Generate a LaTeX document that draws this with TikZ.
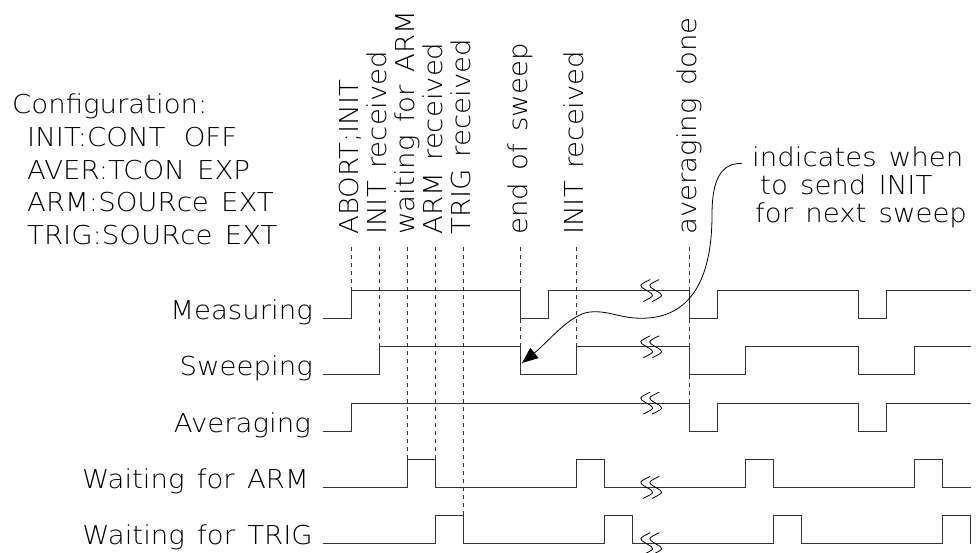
\documentclass[tikz,border=0pt]{standalone}
\usepackage{fontspec}
\IfFontExistsTF{DejaVu Sans ExtraLight}
  {\setmainfont{DejaVu Sans ExtraLight}[FakeStretch=1.06, WordSpace=1.4]}
  {\setmainfont{DejaVu Sans}[FakeStretch=1.06, WordSpace=1.4]}
\usetikzlibrary{arrows.meta}

\begin{document}
\begin{tikzpicture}[x=1pt, y=-1pt,
        >=Stealth,
        txt/.style={font=\fontsize{26pt}{32pt}\selectfont, inner sep=0pt},
        siglabel/.style={txt, anchor=base east},
        evlabel/.style={txt, rotate=90, anchor=base west},
        cfg/.style={txt, anchor=base west},
        wave/.style={line width=1.1pt, draw=black!80},
        guide/.style={line width=0.8pt, draw=black!80, dash pattern=on 4pt off 4pt},
        note/.style={-{Triangle[length=16pt, width=13pt]}, line width=0.8pt},
        cutmark/.pic={
            \draw[x=1pt, y=-1pt, line width=0.8pt] (-1,-11) .. controls (-13,-5) .. (-4.5,0) .. controls (4,5) .. (-8,11);
            \draw[x=1pt, y=-1pt, line width=0.8pt] (8,-11) .. controls (-4,-5) .. (4.5,0) .. controls (13,5) .. (1,11);
        },
    ]
    \useasboundingbox (0,0) rectangle (979,553);
    % Configuration
    \node[cfg] (cfgHead) at (12,114) {Configuration:};
    \node[cfg] (cfgInit) at (27,147) {INIT:CONT\hspace{6pt} OFF};
    \node[cfg] (cfgAver) at (27,180) {AVER:TCON EXP};
    \node[cfg] (cfgArm)  at (27,212) {ARM:SOURce EXT};
    \node[cfg] (cfgTrig) at (27,244) {TRIG:SOURce EXT};
    % Signal names
    \node[siglabel] (lblMeas)  at (313,319.5) {Measuring};
    \node[siglabel] (lblSweep) at (313,375.8) {Sweeping};
    \node[siglabel] (lblAver)  at (311,432.1) {Averaging};
    \node[siglabel] (lblArm)   at (309,488.4) {Waiting for ARM};
    \node[siglabel] (lblTrig)  at (313,544.7) {Waiting for TRIG};
    % Waveforms, one time step = 28.17px
    \begin{scope}[xshift=323pt, x=28.17pt]
        \draw[wave] (0,318.5) -| (1,290.5) -| (7,318.5) -| (8,290.5) -| (13,318.5)
            -| (14,290.5) -| (19,318.5) -| (20,290.5) -- (23,290.5);
        \draw[wave] (0,374.8) -| (2,346.8) -| (7,374.8) -| (9,346.8) -| (13,374.8)
            -| (15,346.8) -| (19,374.8) -| (21,346.8) -- (23,346.8);
        \draw[wave] (0,431.1) -| (1,403.1) -| (13,431.1) -| (14,403.1) -| (19,431.1)
            -| (20,403.1) -- (23,403.1);
        \draw[wave] (0,487.4) -| (3,459.4) -| (4,487.4) -| (9,459.4) -| (10,487.4)
            -| (15,459.4) -| (16,487.4) -| (21,459.4) -| (22,487.4) -- (23,487.4);
        \draw[wave] (0,543.7) -| (4,515.7) -| (5,543.7) -| (10,515.7) -| (11,543.7)
            -| (16,515.7) -| (17,543.7) -| (22,515.7) -| (23,543.7);
        % time breaks
        \pic at (11.65,290.5) {cutmark};
        \pic at (11.65,346.8) {cutmark};
        \pic at (11.65,403.1) {cutmark};
        \pic at (11.65,487.4) {cutmark};
        \pic at (11.65,543.7) {cutmark};
        % events
        \coordinate (evAbort)   at (1,290.5);
        \coordinate (evInit)    at (2,346.8);
        \coordinate (evWaitArm) at (3,459.4);
        \coordinate (evArm)     at (4,459.4);
        \coordinate (evTrig)    at (5,515.7);
        \coordinate (evEnd)     at (7,346.8);
        \coordinate (evInitB)   at (9,346.8);
        \coordinate (evAvgDone) at (13,403.1);
    \end{scope}
    % Event labels
    \node[evlabel] (lblAbort)   at (358.2,235) {ABORT;INIT};
    \node[evlabel] (lblInit)    at (386.3,235) {INIT received};
    \node[evlabel] (lblWaitArm) at (414.5,235) {waiting for ARM};
    \node[evlabel] (lblArmRx)   at (442.7,235) {ARM received};
    \node[evlabel] (lblTrigRx)  at (470.9,235) {TRIG received};
    \node[evlabel] (lblEnd)     at (527.2,235) {end of sweep};
    \node[evlabel] (lblInitB)   at (583.5,235) {INIT received};
    \node[evlabel] (lblAvgDone) at (696.2,235) {averaging done};
    \draw[guide] ([yshift=-12pt]evAbort |- lblAbort.west) -- (evAbort);
    \draw[guide] ([yshift=-12pt]evInit |- lblInit.west) -- (evInit);
    \draw[guide] ([yshift=-12pt]evWaitArm |- lblWaitArm.west) -- (evWaitArm);
    \draw[guide] ([yshift=-12pt]evArm |- lblArmRx.west) -- (evArm);
    \draw[guide] ([yshift=-12pt]evTrig |- lblTrigRx.west) -- (evTrig);
    \draw[guide] ([yshift=-12pt]evEnd |- lblEnd.west) -- (evEnd);
    \draw[guide] ([yshift=-12pt]evInitB |- lblInitB.west) -- (evInitB);
    \draw[guide] ([yshift=-12pt]evAvgDone |- lblAvgDone.west) -- (evAvgDone);
    % Note
    \node[cfg] (noteA) at (752,167) {indicates when};
    \node[cfg] (noteB) at (760,195) {to send INIT};
    \node[cfg] (noteC) at (755,223) {for next sweep};
    \coordinate (sweepFall) at (522,363);
    \draw[note] ([shift={(-10pt,-6pt)}]noteA.west) .. controls (718,163) and (712,185) .. (712,215)
        .. controls (712,280) and (690,315) .. (648,318)
        .. controls (622,320) and (610,310) .. (590,312)
        .. controls (570,314) and (548,342) .. (sweepFall);
\end{tikzpicture}
\end{document}
